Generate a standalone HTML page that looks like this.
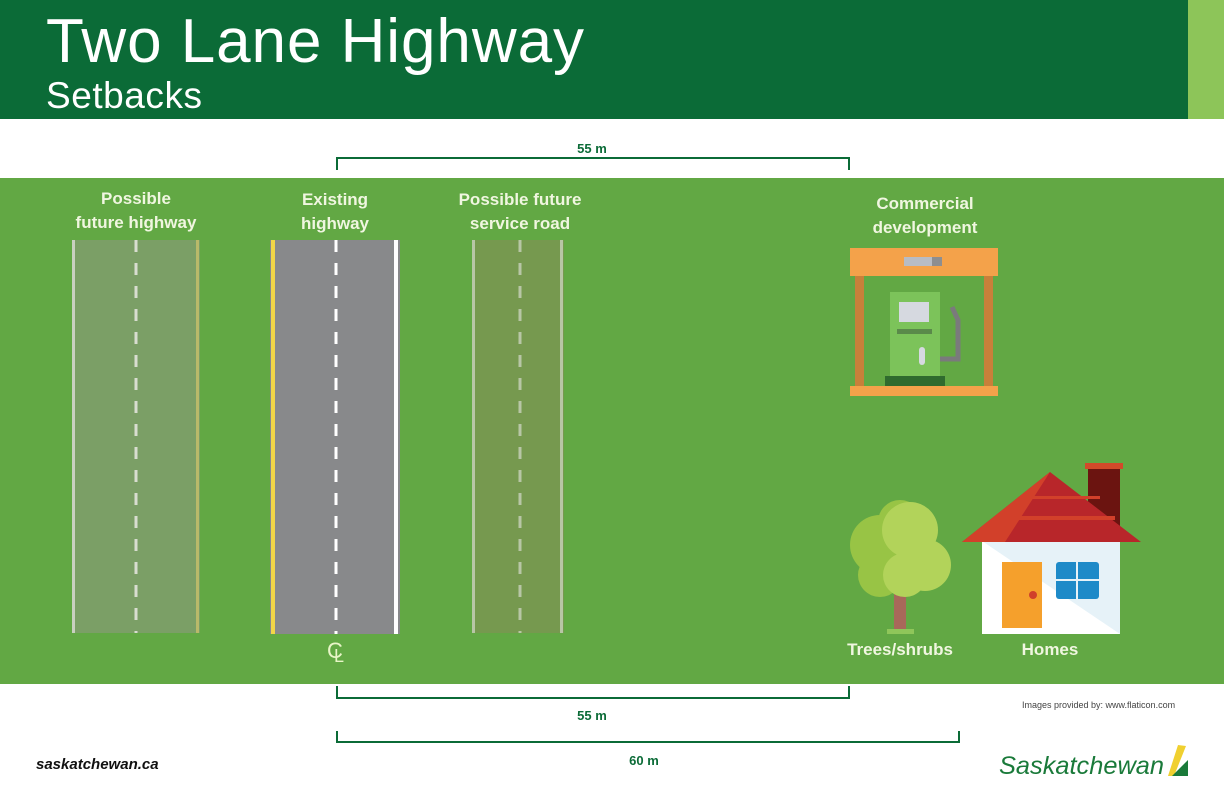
<!DOCTYPE html>
<html><head><meta charset="utf-8"><style>
body{margin:0;width:1224px;height:792px;overflow:hidden;background:#fff;font-family:"Liberation Sans",sans-serif}
</style></head><body>
<svg width="1224" height="792" xmlns="http://www.w3.org/2000/svg" font-family="Liberation Sans, sans-serif">
<rect x="0" y="0" width="1224" height="119" fill="#0b6b37"/>
<rect x="1188" y="0" width="36" height="119" fill="#8dc559"/>
<text x="46" y="62" font-size="62" fill="#fff" textLength="538" lengthAdjust="spacing">Two Lane Highway</text>
<text x="46" y="108" font-size="37" fill="#fff" textLength="156" lengthAdjust="spacing">Setbacks</text>
<rect x="0" y="178" width="1224" height="506" fill="#62a844"/>
<g stroke="#0b6b37" stroke-width="2" fill="none">
<path d="M337 170 V158 H849 V170"/>
<path d="M337 686 V698 H849 V686"/>
<path d="M337 731 V742 H959 V731"/>
</g>
<g font-size="13" font-weight="bold" fill="#0b6b37" text-anchor="middle">
<text x="592" y="153">55 m</text>
<text x="592" y="720">55 m</text>
<text x="644" y="765">60 m</text>
</g>
<g font-size="17" font-weight="bold" fill="#f0f6e0" text-anchor="middle">
<text x="136" y="204">Possible</text><text x="136" y="228">future highway</text>
<text x="335" y="205">Existing</text><text x="335" y="229">highway</text>
<text x="520" y="205">Possible future</text><text x="520" y="229">service road</text>
<text x="925" y="209">Commercial</text><text x="925" y="233">development</text>
<text x="900" y="655">Trees/shrubs</text>
<text x="1050" y="655">Homes</text>
</g>
<rect x="72" y="240" width="128" height="393" fill="#7b9f66"/>
<rect x="72" y="240" width="3" height="393" fill="#c9d0c0"/>
<rect x="196" y="240" width="3" height="393" fill="#b9b96a"/>
<line x1="136" y1="240" x2="136" y2="633" stroke="#d8ddd0" stroke-width="3" stroke-dasharray="12 11"/>
<rect x="270" y="240" width="130" height="394" fill="#88898b"/>
<rect x="271" y="240" width="4" height="394" fill="#f2d648"/>
<rect x="394" y="240" width="4" height="394" fill="#fff"/>
<line x1="336" y1="240" x2="336" y2="634" stroke="#fff" stroke-width="3" stroke-dasharray="12 11"/>
<rect x="472" y="240" width="92" height="393" fill="#76994f"/>
<rect x="472" y="240" width="3" height="393" fill="#b8c6a6"/>
<rect x="560" y="240" width="3" height="393" fill="#b8c6a6"/>
<line x1="520" y1="240" x2="520" y2="633" stroke="#b8c6a6" stroke-width="3" stroke-dasharray="12 11"/>
<text x="335" y="658" font-size="22" fill="#e8f5c8" text-anchor="middle">C</text>
<text x="339" y="662" font-size="18" fill="#e8f5c8" text-anchor="middle">L</text>
<rect x="850" y="248" width="148" height="28" fill="#f4a24a"/>
<rect x="904" y="257" width="32" height="9" fill="#b8bcc4"/>
<rect x="932" y="257" width="10" height="9" fill="#8e8e90"/>
<rect x="855" y="276" width="9" height="110" fill="#c8803a"/>
<rect x="984" y="276" width="9" height="110" fill="#c8803a"/>
<rect x="890" y="292" width="50" height="85" fill="#7cc35a"/>
<rect x="899" y="302" width="30" height="20" fill="#d6d9e0"/>
<rect x="897" y="329" width="35" height="5" fill="#5a8a4a"/>
<rect x="919" y="347" width="6" height="18" rx="3" fill="#d6d9e0"/>
<path d="M940 359 H958 V320 L952 307" stroke="#7a7a7c" stroke-width="5" fill="none"/>
<rect x="885" y="376" width="60" height="10" fill="#2f6b2e"/>
<rect x="850" y="386" width="148" height="10" fill="#f4a24a"/>
<rect x="894" y="590" width="12" height="40" fill="#a8685a"/>
<rect x="887" y="629" width="27" height="5" fill="#8fc65a"/>
<circle cx="880" cy="545" r="30" fill="#98c445"/>
<circle cx="900" cy="522" r="22" fill="#98c445"/>
<circle cx="880" cy="575" r="22" fill="#98c445"/>
<circle cx="910" cy="530" r="28" fill="#b2d35a"/>
<circle cx="925" cy="565" r="26" fill="#b2d35a"/>
<circle cx="905" cy="575" r="22" fill="#b2d35a"/>
<rect x="1085" y="463" width="38" height="6" fill="#d24a2a"/>
<rect x="1088" y="469" width="32" height="60" fill="#6b1410"/>
<rect x="982" y="541" width="138" height="93" fill="#e6f2f8"/>
<polygon points="982,541 1120,634 982,634" fill="#fff"/>
<polygon points="1050,472 962,542 1141,542" fill="#b8262a"/>
<polygon points="1050,472 962,542 1005,542" fill="#d2402a"/>
<rect x="1020" y="496" width="80" height="3" fill="#d2402a"/>
<rect x="1005" y="516" width="110" height="4" fill="#d2402a"/>
<rect x="1002" y="562" width="40" height="66" fill="#f5a02c"/>
<circle cx="1033" cy="595" r="4" fill="#d0402a"/>
<rect x="1056" y="562" width="43" height="37" rx="3" fill="#1e8ac8"/>
<rect x="1076" y="562" width="2" height="37" fill="#e6f2f8"/>
<rect x="1056" y="579" width="43" height="2" fill="#e6f2f8"/>
<text x="1022" y="708" font-size="9" fill="#444">Images provided by: www.flaticon.com</text>
<text x="36" y="769" font-size="15" font-weight="bold" font-style="italic" fill="#111">saskatchewan.ca</text>
<text x="999" y="774" font-size="25" font-style="italic" fill="#1a7a3a" textLength="165" lengthAdjust="spacingAndGlyphs">Saskatchewan</text>
<polygon points="1168,776 1178,745 1186,746 1174,776" fill="#f0d030"/>
<polygon points="1172,776 1188,760 1188,776" fill="#1a7a3a"/>
</svg>
</body></html>
